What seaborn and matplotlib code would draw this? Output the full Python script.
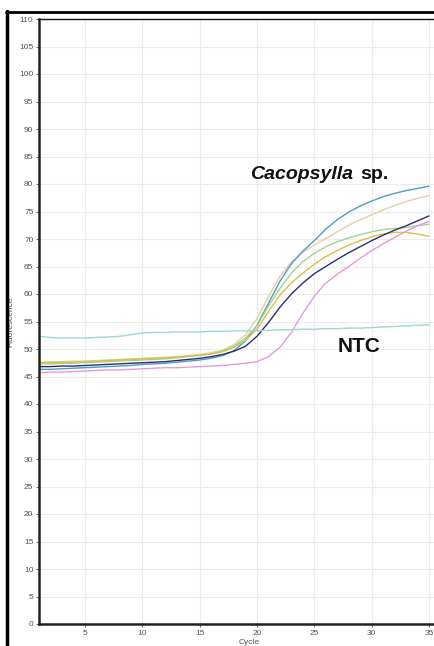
import numpy as np
import pandas as pd
import seaborn as sns
import matplotlib.pyplot as plt
from matplotlib.lines import Line2D

cycles = list(range(1, 36))

beige = [47.6, 47.7, 47.7, 47.8, 47.8, 47.9, 48.0, 48.1, 48.2, 48.3, 48.4, 48.5, 48.6, 48.8, 49.0, 49.3, 49.8,
         50.8, 52.6, 55.5, 59.5, 63.2, 65.8, 67.6, 68.9, 70.1, 71.3, 72.5, 73.5, 74.4, 75.3, 76.1, 76.8, 77.4, 77.9]
blue = [46.3, 46.3, 46.4, 46.5, 46.6, 46.7, 46.8, 46.9, 47.0, 47.2, 47.3, 47.4, 47.6, 47.8, 48.0, 48.3, 48.8,
        49.7, 51.5, 54.3, 58.3, 62.3, 65.5, 67.8, 69.7, 71.8, 73.5, 74.9, 76.0, 76.9, 77.7, 78.3, 78.8, 79.2, 79.6]
green = [47.3, 47.3, 47.4, 47.4, 47.5, 47.6, 47.7, 47.8, 47.9, 48.0, 48.1, 48.2, 48.4, 48.6, 48.8, 49.1, 49.6,
         50.5, 52.0, 54.2, 57.8, 61.0, 63.8, 65.9, 67.4, 68.6, 69.5, 70.2, 70.8, 71.3, 71.7, 71.9, 72.1, 72.4, 72.7]
yellow = [47.5, 47.5, 47.6, 47.6, 47.7, 47.8, 47.9, 48.0, 48.1, 48.2, 48.3, 48.4, 48.5, 48.7, 48.9, 49.1, 49.5,
          50.3, 51.6, 53.6, 56.8, 59.8, 62.0, 63.8, 65.4, 66.8, 67.9, 68.9, 69.7, 70.4, 70.9, 71.2, 71.2, 70.9, 70.5]
navy = [46.8, 46.8, 46.9, 46.9, 47.0, 47.1, 47.2, 47.3, 47.4, 47.5, 47.6, 47.7, 47.9, 48.1, 48.3, 48.6, 49.0,
        49.6, 50.5, 52.3, 54.8, 57.6, 60.0, 62.0, 63.7, 65.0, 66.3, 67.5, 68.6, 69.7, 70.7, 71.6, 72.4, 73.3, 74.2]
pink = [45.7, 45.8, 45.8, 45.9, 46.0, 46.1, 46.2, 46.2, 46.3, 46.4, 46.5, 46.6, 46.6, 46.7, 46.8, 46.9, 47.0,
        47.2, 47.4, 47.7, 48.6, 50.3, 53.0, 56.5, 59.6, 62.0, 63.6, 65.0, 66.5, 67.9, 69.1, 70.3, 71.4, 72.4, 73.2]
ntc = [52.3, 52.1, 52.0, 52.0, 52.0, 52.1, 52.2, 52.3, 52.6, 52.9, 53.0, 53.0, 53.1, 53.1, 53.1, 53.2, 53.2,
       53.3, 53.3, 53.3, 53.4, 53.5, 53.5, 53.6, 53.6, 53.7, 53.7, 53.8, 53.8, 53.9, 54.0, 54.1, 54.2, 54.3, 54.4]

series = {"beige": beige, "blue": blue, "green": green, "yellow": yellow,
          "navy": navy, "pink": pink, "NTC": ntc}
colors = {"beige": "#e6cfa2", "blue": "#4e9cc0", "green": "#9fd39a", "yellow": "#d6c246",
          "navy": "#2c2f6e", "pink": "#e79ad9", "NTC": "#9fd6d6"}

df = pd.DataFrame([(name, c, v) for name, vals in series.items() for c, v in zip(cycles, vals)],
                  columns=["sample", "Cycle", "Fluorescence"])

sns.set_style("white")
plt.rcParams['font.family'] = ['Liberation Sans', 'DejaVu Sans']
fig = plt.figure(figsize=(4.35, 6.46), dpi=100)
ax = fig.add_axes([39 / 435, 22 / 646, 396 / 435, 605 / 646])

sns.lineplot(data=df, x="Cycle", y="Fluorescence", hue="sample", palette=colors,
             linewidth=1.0, legend=False, ax=ax)

ax.set_xlim(1, 35.52)
ax.set_ylim(0, 110)
ax.set_xticks(range(5, 36, 5))
ax.set_yticks(range(0, 111, 5))
ax.grid(True, color="#ebebeb", linewidth=0.8)
ax.tick_params(axis="both", labelsize=6, labelcolor="#555555", length=2.5, width=0.6,
               color="#555555", pad=1.5, left=True, bottom=True)
ax.set_xlabel("Cycle", fontsize=6, color="#555555")
ax.set_ylabel("Fluorescence", fontsize=6, color="#555555")
ax.xaxis.set_label_coords(0.53, -0.024)
ax.yaxis.set_label_coords(-0.062, 0.5)

for side in ["left", "bottom"]:
    ax.spines[side].set_color("#222222")
    ax.spines[side].set_linewidth(1.8)
ax.spines["top"].set_color("#111111")
ax.spines["top"].set_linewidth(1.0)
ax.spines["right"].set_visible(False)

ax.text(19.4, 81.8, "Cacopsylla", fontsize=14, fontweight="bold", fontstyle="italic",
        color="#111111", va="center", ha="left")
ax.text(29.05, 81.8, "sp.", fontsize=14, fontweight="bold", color="#111111",
        va="center", ha="left")
ax.text(27.0, 50.5, "NTC", fontsize=15, fontweight="bold", color="#111111",
        va="center", ha="left")

# black frame of the screenshot
fig.add_artist(Line2D([7.5 / 435, 7.5 / 435], [0, 1 - 11 / 646], color="black", linewidth=2.5,
                      transform=fig.transFigure))
fig.add_artist(Line2D([6 / 435, 1], [1 - 12 / 646, 1 - 12 / 646], color="black", linewidth=2.0,
                      transform=fig.transFigure))

fig.savefig("out.png", dpi=100)
